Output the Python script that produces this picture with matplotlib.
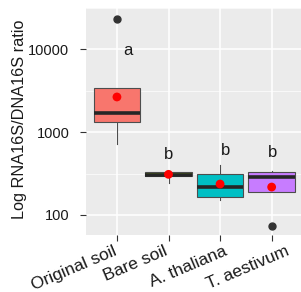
import matplotlib
matplotlib.use("Agg")
import matplotlib.pyplot as plt
import matplotlib.transforms as mtransforms
import numpy as np

categories = ["Original soil", "Bare soil", "A. thaliana", "T. aestivum"]
q1 = [1320, 297, 163, 191]
median = [1720, 306, 219, 289]
q3 = [3440, 331, 312, 327]
whisker_low = [716, 243, 152, 191]
whisker_high = [3440, 340, 404, 342]
means = [2660, 309, 236, 217]
outliers = [[23200], [], [], [74]]
letters = ["a", "b", "b", "b"]
letter_y = [9800, 543, 607, 569]
letter_dx = [0.21, 0.0, 0.1, 0.02]
fills = ["#F8766D", "#7CAE00", "#00BFC4", "#C77CFF"]
yticks = [100, 1000, 10000]
ylabel = "Log RNA16S/DNA16S ratio"

plt.rcParams['font.family'] = ['Liberation Sans', 'DejaVu Sans']

W, H = 301, 292
fig = plt.figure(figsize=(W / 100, H / 100), dpi=100)
left, right, top, bottom = 86, 302.6, 8, 235
ax = fig.add_axes([left / W, 1 - bottom / H, (right - left) / W, (bottom - top) / H])
ax.set_facecolor("#EBEBEB")
ax.set_yscale("log")

positions = np.arange(1, len(categories) + 1)
stats = []
for i, c in enumerate(categories):
    stats.append(dict(label=c, q1=q1[i], med=median[i], q3=q3[i],
                      whislo=whisker_low[i], whishi=whisker_high[i],
                      fliers=outliers[i], mean=means[i]))

bp = ax.bxp(stats, positions=positions, widths=0.9, patch_artist=True,
            showfliers=True, showcaps=False,
            boxprops=dict(edgecolor="#4d4d4d", linewidth=0.8),
            medianprops=dict(color="#262626", linewidth=2.6),
            whiskerprops=dict(color="#4d4d4d", linewidth=0.8),
            flierprops=dict(marker="o", markerfacecolor="#333333",
                            markeredgecolor="#333333", markersize=5))
for patch, col in zip(bp["boxes"], fills):
    patch.set_facecolor(col)
    patch.set_zorder(3)
for m in bp["medians"]:
    m.set_zorder(4)

ax.scatter(positions, means, color="#FF0000", s=40, zorder=5, edgecolors="none")

for i, t in enumerate(letters):
    ax.text(positions[i] + letter_dx[i], letter_y[i], t,
            ha="center", va="center", fontsize=12, color="#1a1a1a")

# ticks and grid
ax.set_yticks(yticks)
ax.set_yticklabels([str(v) for v in yticks])
minor = [10 ** 1.5 * 10 ** k for k in range(0, 4)]
ax.set_yticks(minor, minor=True)
ax.yaxis.set_minor_formatter(matplotlib.ticker.NullFormatter())
ax.tick_params(axis="y", which="minor", length=0)
ax.grid(True, which="major", color="white", linewidth=1.1)
ax.grid(True, which="minor", axis="y", color="white", linewidth=0.5)
ax.set_axisbelow(True)

ax.set_xticks(positions)
ax.set_xticklabels(categories, rotation=23, ha="right", va="top",
                   rotation_mode="anchor", color="#1a1a1a")
ax.tick_params(axis="both", which="major", length=4, color="#333333",
               labelcolor="#1a1a1a")
ax.tick_params(axis="y", labelsize=10.5, pad=8)
ax.tick_params(axis="x", labelsize=12.5, pad=2)
label_dx = [-4, -5, 3, 14]
for lab, dx in zip(ax.get_xticklabels(), label_dx):
    off = mtransforms.ScaledTranslation(dx / 100, 0, fig.dpi_scale_trans)
    lab.set_transform(lab.get_transform() + off)
ax.set_ylabel(ylabel, fontsize=11.7, color="#1a1a1a")
ax.yaxis.set_label_coords(-0.272, 0.508)
for s in ax.spines.values():
    s.set_visible(False)

ax.set_xlim(0.4, 4.6)
ax.set_ylim(10 ** 1.757, 10 ** 4.5)

fig.savefig("out.png", dpi=100)
